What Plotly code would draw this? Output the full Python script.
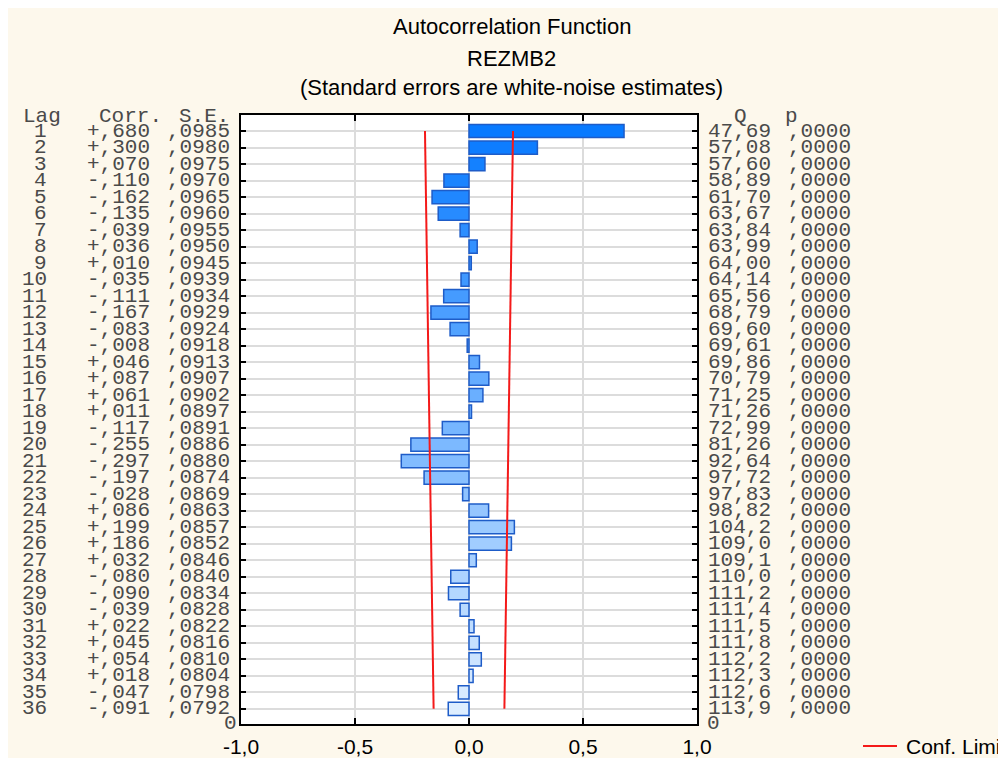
import plotly.graph_objects as go

# ---------------- data ----------------
lags = list(range(1, 37))
corr = [0.680, 0.300, 0.070, -0.110, -0.162, -0.135, -0.039, 0.036, 0.010, -0.035,
        -0.111, -0.167, -0.083, -0.008, 0.046, 0.087, 0.061, 0.011, -0.117, -0.255,
        -0.297, -0.197, -0.028, 0.086, 0.199, 0.186, 0.032, -0.080, -0.090, -0.039,
        0.022, 0.045, 0.054, 0.018, -0.047, -0.091]
std_err = [0.0985, 0.0980, 0.0975, 0.0970, 0.0965, 0.0960, 0.0955, 0.0950, 0.0945, 0.0939,
           0.0934, 0.0929, 0.0924, 0.0918, 0.0913, 0.0907, 0.0902, 0.0897, 0.0891, 0.0886,
           0.0880, 0.0874, 0.0869, 0.0863, 0.0857, 0.0852, 0.0846, 0.0840, 0.0834, 0.0828,
           0.0822, 0.0816, 0.0810, 0.0804, 0.0798, 0.0792]
q_stat = [47.69, 57.08, 57.60, 58.89, 61.70, 63.67, 63.84, 63.99, 64.00, 64.14,
          65.56, 68.79, 69.60, 69.61, 69.86, 70.79, 71.25, 71.26, 72.99, 81.26,
          92.64, 97.72, 97.83, 98.82, 104.2, 109.0, 109.1, 110.0, 111.2, 111.4,
          111.5, 111.8, 112.2, 112.3, 112.6, 113.9]
p_val = [0.0] * 36
x_tickvals = [-1.0, -0.5, 0.0, 0.5, 1.0]
x_ticktext = ["-1,0", "-0,5", "0,0", "0,5", "1,0"]

# confidence limits (white-noise, 1.96 * S.E.)
conf_hi = [1.96 * s for s in std_err]
conf_lo = [-1.96 * s for s in std_err]

# ---------------- styles ----------------
OFF = 8                      # page body margin
W, H = 1006 - OFF, 758 - OFF
PLOT_L, PLOT_R, PLOT_T, PLOT_B = 241, 697, 115, 724   # page pixels
PW, PH = PLOT_R - PLOT_L, PLOT_B - PLOT_T
L, T = PLOT_L - OFF, PLOT_T - OFF
R, B = W - L - PW, H - T - PH
BG = "#FDF8EC"
MONO = "Liberation Mono, Courier New, monospace"
SANS = "Liberation Sans, Arial, sans-serif"
TXT = "#4a4a4a"
RED = "#F41A1A"


def px(xpix):
    return (xpix - PLOT_L) / PW


def py(ypix):
    return 1 - (ypix - PLOT_T) / PH


def bar_color(i, n):
    t = i / (n - 1)
    c0, c1 = (8, 122, 255), (222, 238, 255)
    r, g, b = (round(a + (bb - a) * t) for a, bb in zip(c0, c1))
    return f"rgb({r},{g},{b})"


def fmt_corr(v):
    s = f"{abs(v):.3f}"[1:].replace(".", ",")
    return ("+" if v >= 0 else "-") + s


def fmt_se(v):
    return f"{v:.4f}"[1:].replace(".", ",")


def fmt_q(v):
    s = f"{v:.2f}" if v < 100 else f"{v:.1f}"
    return s.replace(".", ",")


fig = go.Figure()

fig.add_trace(go.Bar(
    x=corr, y=lags, orientation="h", width=0.8,
    marker=dict(color=[bar_color(i, len(lags)) for i in range(len(lags))],
                line=dict(color="#1E5CC8", width=1.5)),
    showlegend=False, hoverinfo="x+y",
))
fig.add_trace(go.Scatter(x=conf_lo, y=lags, mode="lines",
                         line=dict(color=RED, width=2), showlegend=False))
fig.add_trace(go.Scatter(x=conf_hi, y=lags, mode="lines",
                         line=dict(color=RED, width=2), showlegend=False))

ann = []
# titles
for text, ypix in [("Autocorrelation Function", 27), ("REZMB2", 58),
                   ("(Standard errors are white-noise estimates)", 87)]:
    ann.append(dict(text=text, xref="paper", yref="paper", x=px(511.5), y=py(ypix),
                    xanchor="center", yanchor="middle", showarrow=False,
                    font=dict(family=SANS, size=22, color="#000000")))

mono = dict(family=MONO, size=21, color=TXT)
hdr = []
hdr_y = py(116)
hdr.append(dict(text="Lag", x=px(42), y=hdr_y, xanchor="center"))
hdr.append(dict(text="Corr.", x=px(130), y=hdr_y, xanchor="center"))
hdr.append(dict(text="S.E.", x=px(204), y=hdr_y, xanchor="center"))
hdr.append(dict(text="Q", x=px(740), y=hdr_y, xanchor="center"))
hdr.append(dict(text="p", x=px(791), y=hdr_y, xanchor="center"))
hdr.append(dict(text="0", x=px(230), y=py(723), xanchor="center"))
hdr.append(dict(text="0", x=px(713), y=py(723), xanchor="center"))
for a in hdr:
    a.update(xref="paper", yref="paper", yanchor="middle", showarrow=False, font=mono)
ann += hdr

for i, lag in enumerate(lags):
    row = [
        (str(lag), 49, "right"),
        (fmt_corr(corr[i]), 152, "right"),
        (fmt_se(std_err[i]), 232, "right"),
        (fmt_q(q_stat[i]), 706, "left"),
        (fmt_se(p_val[i]), 786, "left"),
    ]
    for text, xp, anchor in row:
        ann.append(dict(text=text, xref="paper", yref="y", x=px(xp), y=lag,
                        xanchor=anchor, yanchor="middle", showarrow=False, font=mono))

# legend
ann.append(dict(text="Conf. Limits", xref="paper", yref="paper", x=px(904), y=py(746),
                xanchor="left", yanchor="middle", showarrow=False,
                font=dict(family=SANS, size=21, color="#000000")))

shapes = [
    dict(type="line", xref="paper", yref="paper", x0=px(863), x1=px(897),
         y0=py(746), y1=py(746), line=dict(color=RED, width=2)),
]

fig.update_layout(
    width=W, height=H, autosize=False,
    margin=dict(l=L, r=R, t=T, b=B, pad=0, autoexpand=False),
    paper_bgcolor=BG, plot_bgcolor="#FFFFFF",
    annotations=ann, shapes=shapes,
    showlegend=False,
)
fig.update_xaxes(
    range=[-1, 1], tickvals=x_tickvals, ticktext=x_ticktext,
    ticks="inside", ticklen=6, tickwidth=2, tickcolor="#000000",
    showline=True, linecolor="#000000", linewidth=2, mirror="ticks",
    showgrid=True, gridcolor="#DCDCDC", gridwidth=1.5, zeroline=False,
    tickfont=dict(family=SANS, size=21, color="#000000"),
    ticklabelstandoff=3, automargin=False,
)
fig.update_yaxes(
    range=[36.92, 0.03], tickvals=lags, showticklabels=False,
    ticks="inside", ticklen=5, tickwidth=2, tickcolor="#000000",
    showline=True, linecolor="#000000", linewidth=2, mirror="ticks",
    showgrid=True, gridcolor="#DCDCDC", gridwidth=1.5, zeroline=False,
    automargin=False,
)

fig.write_html("out.html")
